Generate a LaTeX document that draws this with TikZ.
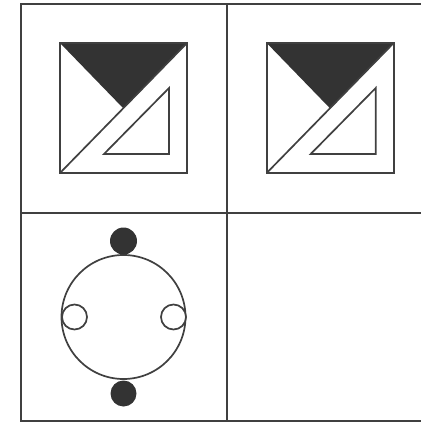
\documentclass[tikz,border=0pt]{standalone}
\begin{document}
\begin{tikzpicture}[x=1pt,y=-1pt,
  grid/.style={line width=2pt,draw=black!75},
  sym/.style={line width=1.7pt,draw=black!75},
  darkfill/.style={fill=black!80}]
\useasboundingbox (0,0) rectangle (421,424);
% grid
\draw[grid] (421,4) -- (21,4) -- (21,421) -- (421,421);
\draw[grid] (21,213) -- (421,213);
\draw[grid] (227,4) -- (227,421);
% two symbols
\foreach \dx in {0,206.7}{
  \begin{scope}[xshift=\dx]
    \fill[darkfill] (60,43) -- (187,43) -- (123.5,108.5) -- cycle;
    \draw[sym] (60,43) rectangle (187,173);
    \draw[sym] (60,173) -- (187,43);
    \draw[sym,line join=miter] (169,88) -- (169,154) -- (104,154) -- cycle;
  \end{scope}
}
% bottom-left symbol
\coordinate (c) at (123.5,317);
\draw[sym] (c) circle[radius=62];
\fill[darkfill] (123.5,241) circle[radius=13.5];
\fill[darkfill] (123.5,393.5) circle[radius=13];
\draw[sym,fill=white] (74.5,317) circle[radius=12.5];
\draw[sym,fill=white] (173.5,317) circle[radius=12.5];
\end{tikzpicture}
\end{document}
